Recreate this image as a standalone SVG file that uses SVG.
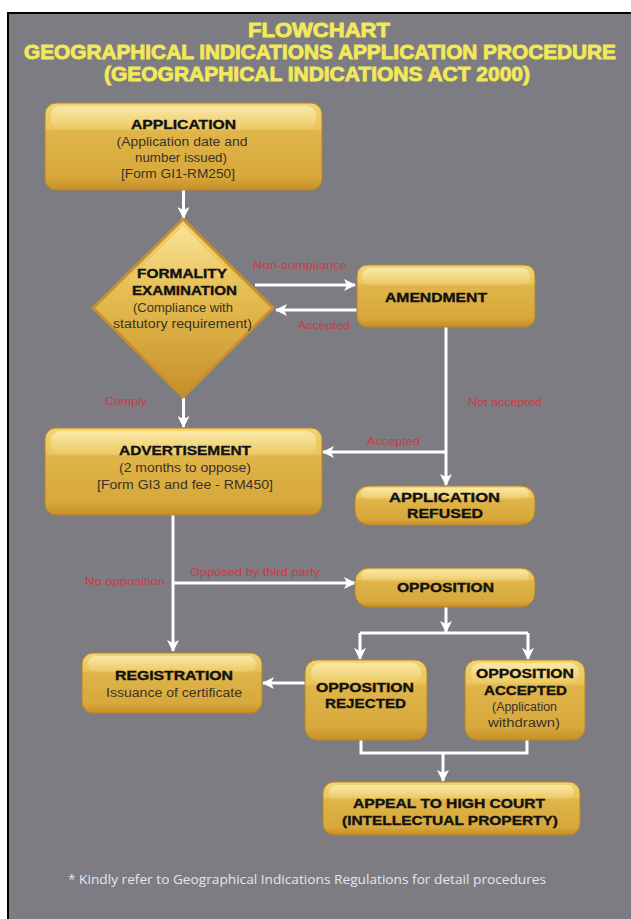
<svg xmlns="http://www.w3.org/2000/svg" width="631" height="919" viewBox="0 0 631 919">
<defs>
<linearGradient id="gold" x1="0" y1="0" x2="0" y2="1">
<stop offset="0" stop-color="#f2d474"/>
<stop offset="0.3" stop-color="#e9c459"/>
<stop offset="0.32" stop-color="#e0b54a"/>
<stop offset="0.85" stop-color="#d7a83b"/>
<stop offset="1" stop-color="#c78d27"/>
</linearGradient>
<linearGradient id="gloss" x1="0" y1="0" x2="0" y2="1">
<stop offset="0" stop-color="#fff6c8" stop-opacity="0.6"/>
<stop offset="1" stop-color="#fff6c8" stop-opacity="0.08"/>
</linearGradient>
<linearGradient id="dgold" x1="0" y1="0" x2="0" y2="1">
<stop offset="0" stop-color="#f3d676"/>
<stop offset="0.45" stop-color="#e4bb50"/>
<stop offset="1" stop-color="#c68f28"/>
</linearGradient>
<linearGradient id="dgloss" x1="0" y1="0" x2="0" y2="1">
<stop offset="0" stop-color="#fff4c0" stop-opacity="0.45"/>
<stop offset="1" stop-color="#fff4c0" stop-opacity="0"/>
</linearGradient>
<marker id="ah" markerUnits="userSpaceOnUse" markerWidth="12" markerHeight="12" viewBox="0 0 12 12" refX="11" refY="6" orient="auto">
<path d="M0,0 L12,6 L0,12 L3,6 Z" fill="#ffffff"/>
</marker>
<style>
.box{fill:url(#gold);stroke:#b5842b;stroke-width:1}
.gl{fill:url(#gloss)}
.t{font-family:"Liberation Sans",Arial,sans-serif;font-weight:bold;font-size:12.5px;fill:#111;stroke:#111;stroke-width:0.35;text-anchor:middle}
.s{font-family:"Liberation Sans",Arial,sans-serif;font-size:12px;fill:#3a3226;text-anchor:middle}
.lb{font-family:"Liberation Sans",Arial,sans-serif;font-size:10.5px;fill:#d03a44;text-anchor:start}
.ttl{font-family:"Liberation Sans",Arial,sans-serif;font-weight:bold;font-size:20px;fill:#f3ea5c;text-anchor:middle;stroke:#f0e65a;stroke-width:0.9}
.c{fill:none;stroke:#ffffff;stroke-width:3}
.ft{font-family:"Open Sans","Liberation Sans",sans-serif;font-size:12px;fill:#e6e6ea;text-anchor:start}
</style>
</defs>
<rect x="0" y="0" width="631" height="919" fill="#ffffff"/>
<rect x="8" y="13" width="623" height="906" fill="#7c7c82"/>
<path d="M8,919 V13 H631" fill="none" stroke="#000" stroke-width="2"/>
<g id="title">
<text class="ttl" x="319" y="37" textLength="142" lengthAdjust="spacingAndGlyphs">FLOWCHART</text>
<text class="ttl" x="320" y="59" textLength="592" lengthAdjust="spacingAndGlyphs">GEOGRAPHICAL INDICATIONS APPLICATION PROCEDURE</text>
<text class="ttl" x="317" y="81" textLength="426" lengthAdjust="spacingAndGlyphs">(GEOGRAPHICAL INDICATIONS ACT 2000)</text>
</g>
<g id="connectors">
<path class="c" d="M183.5,190 V218" marker-end="url(#ah)"/>
<path class="c" d="M255,285 H355" marker-end="url(#ah)"/>
<path class="c" d="M357,310 H276" marker-end="url(#ah)"/>
<path class="c" d="M446,327 V485" marker-end="url(#ah)"/>
<path class="c" d="M446,452 H323" marker-end="url(#ah)"/>
<path class="c" d="M183.5,398 V427" marker-end="url(#ah)"/>
<path class="c" d="M173,515 V651" marker-end="url(#ah)"/>
<path class="c" d="M173,583 H355" marker-end="url(#ah)"/>
<path class="c" d="M446,607 V632" marker-end="url(#ah)"/>
<path class="c" d="M360,633 H528"/>
<path class="c" d="M360,633 V659" marker-end="url(#ah)"/>
<path class="c" d="M528,633 V659" marker-end="url(#ah)"/>
<path class="c" d="M305,683 H263" marker-end="url(#ah)"/>
<path class="c" d="M361,740 V753 H527 V740"/>
<path class="c" d="M443,753 V781" marker-end="url(#ah)"/>
<text class="lb" x="253" y="269" textLength="94" lengthAdjust="spacingAndGlyphs">Non-compliance</text>
<text class="lb" x="298" y="329" textLength="52" lengthAdjust="spacingAndGlyphs">Accepted</text>
<text class="lb" x="105" y="405" textLength="42" lengthAdjust="spacingAndGlyphs">Comply</text>
<text class="lb" x="468" y="406" textLength="74" lengthAdjust="spacingAndGlyphs">Not accepted</text>
<text class="lb" x="367" y="445" textLength="53" lengthAdjust="spacingAndGlyphs">Accepted</text>
<text class="lb" x="190" y="576" textLength="130" lengthAdjust="spacingAndGlyphs">Opposed by third party</text>
<text class="lb" x="85" y="585" textLength="80" lengthAdjust="spacingAndGlyphs">No opposition</text>
</g>
<g id="application">
<rect class="box" x="45" y="103" width="277" height="87" rx="11"/>
<rect class="gl" x="51" y="106" width="265" height="24" rx="9"/>
<text class="t" x="183.5" y="129" textLength="105" lengthAdjust="spacingAndGlyphs">APPLICATION</text>
<text class="s" x="182" y="146" textLength="131" lengthAdjust="spacingAndGlyphs">(Application date and</text>
<text class="s" x="181" y="162" textLength="92" lengthAdjust="spacingAndGlyphs">number issued)</text>
<text class="s" x="178" y="178" textLength="114" lengthAdjust="spacingAndGlyphs">[Form GI1-RM250]</text>
</g>
<g id="formality">
<path d="M183,219 L273,308 L183,397 L93,308 Z" fill="url(#dgold)" stroke="#c49030" stroke-width="3" stroke-linejoin="round"/>
<path d="M183,226 L246,289 L120,289 Z" fill="url(#dgloss)"/>
<text class="t" x="182" y="278" textLength="90" lengthAdjust="spacingAndGlyphs">FORMALITY</text>
<text class="t" x="184.5" y="295" textLength="105" lengthAdjust="spacingAndGlyphs">EXAMINATION</text>
<text class="s" x="183" y="312" textLength="100" lengthAdjust="spacingAndGlyphs">(Compliance with</text>
<text class="s" x="182.5" y="328" textLength="139" lengthAdjust="spacingAndGlyphs">statutory requirement)</text>
</g>
<g id="amendment">
<rect class="box" x="357" y="265" width="178" height="62" rx="10"/>
<rect class="gl" x="362" y="268" width="168" height="18" rx="8"/>
<text class="t" x="436" y="302" textLength="102" lengthAdjust="spacingAndGlyphs">AMENDMENT</text>
</g>
<g id="advertisement">
<rect class="box" x="45" y="428" width="277" height="87" rx="11"/>
<rect class="gl" x="51" y="431" width="265" height="24" rx="9"/>
<text class="t" x="185" y="455" textLength="132" lengthAdjust="spacingAndGlyphs">ADVERTISEMENT</text>
<text class="s" x="185" y="472" textLength="132" lengthAdjust="spacingAndGlyphs">(2 months to oppose)</text>
<text class="s" x="185" y="489" textLength="176" lengthAdjust="spacingAndGlyphs">[Form GI3 and fee - RM450]</text>
</g>
<g id="refused">
<rect class="box" x="355" y="486" width="180" height="39" rx="14"/>
<rect class="gl" x="361" y="488" width="168" height="12" rx="6"/>
<text class="t" x="444.5" y="502" font-size="13.5" textLength="111" lengthAdjust="spacingAndGlyphs">APPLICATION</text>
<text class="t" x="445" y="518" font-size="13.5" textLength="76" lengthAdjust="spacingAndGlyphs">REFUSED</text>
</g>
<g id="opposition">
<rect class="box" x="355" y="568" width="180" height="39" rx="14"/>
<rect class="gl" x="361" y="570" width="168" height="12" rx="6"/>
<text class="t" x="445.5" y="592" font-size="13.5" textLength="97" lengthAdjust="spacingAndGlyphs">OPPOSITION</text>
</g>
<g id="registration">
<rect class="box" x="82" y="653" width="180" height="60" rx="11"/>
<rect class="gl" x="88" y="656" width="168" height="16" rx="8"/>
<text class="t" x="174" y="680" textLength="118" lengthAdjust="spacingAndGlyphs">REGISTRATION</text>
<text class="s" x="174" y="697" textLength="136" lengthAdjust="spacingAndGlyphs">Issuance of certificate</text>
</g>
<g id="opp-rejected">
<rect class="box" x="305" y="660" width="122" height="80" rx="12"/>
<rect class="gl" x="311" y="663" width="110" height="20" rx="9"/>
<text class="t" x="365" y="692" textLength="98" lengthAdjust="spacingAndGlyphs">OPPOSITION</text>
<text class="t" x="365.5" y="708" textLength="81" lengthAdjust="spacingAndGlyphs">REJECTED</text>
</g>
<g id="opp-accepted">
<rect class="box" x="465" y="660" width="120" height="80" rx="12"/>
<rect class="gl" x="471" y="663" width="108" height="20" rx="9"/>
<text class="t" x="525" y="678" textLength="98" lengthAdjust="spacingAndGlyphs">OPPOSITION</text>
<text class="t" x="525.5" y="695" textLength="83" lengthAdjust="spacingAndGlyphs">ACCEPTED</text>
<text class="s" x="524.5" y="711" textLength="65" lengthAdjust="spacingAndGlyphs">(Application</text>
<text class="s" x="524" y="727" textLength="72" lengthAdjust="spacingAndGlyphs">withdrawn)</text>
</g>
<g id="appeal">
<rect class="box" x="323" y="782" width="257" height="53" rx="11"/>
<rect class="gl" x="329" y="785" width="245" height="14" rx="7"/>
<text class="t" x="449" y="808" font-size="13" textLength="192" lengthAdjust="spacingAndGlyphs">APPEAL TO HIGH COURT</text>
<text class="t" x="450" y="825" font-size="13" textLength="216" lengthAdjust="spacingAndGlyphs">(INTELLECTUAL PROPERTY)</text>
</g>
<text class="ft" x="68" y="884" textLength="478" lengthAdjust="spacingAndGlyphs">* Kindly refer to Geographical Indications Regulations for detail procedures</text>
</svg>
